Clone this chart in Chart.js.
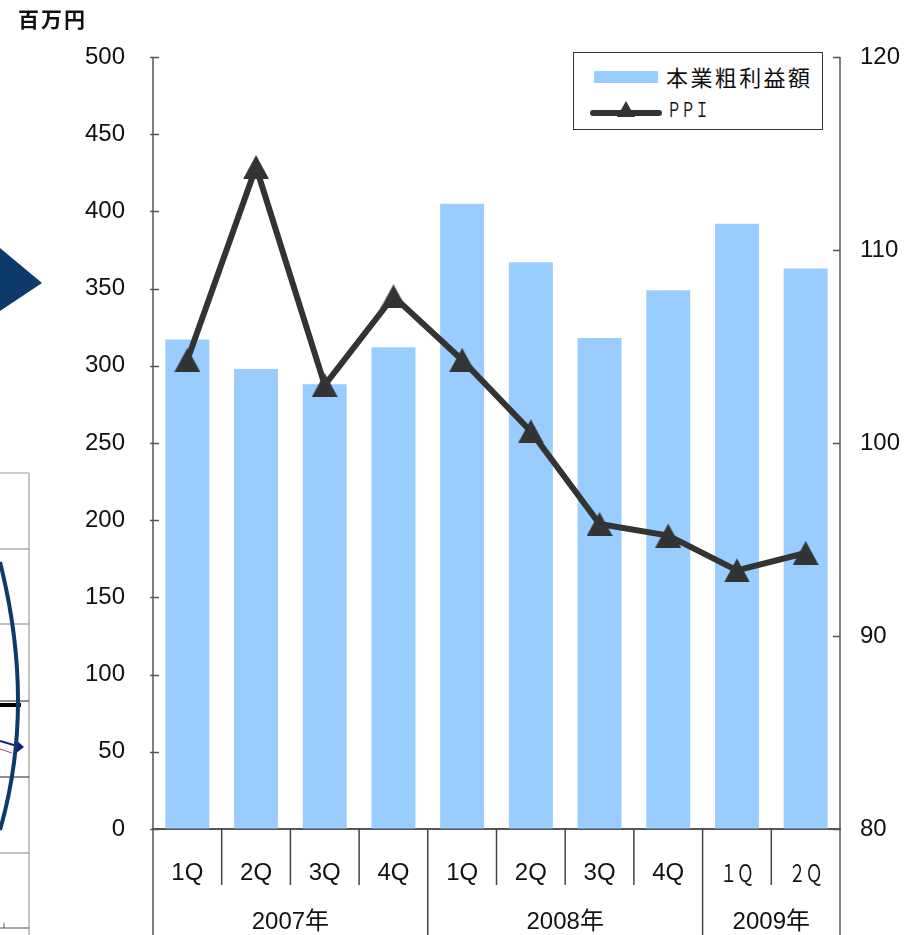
<!DOCTYPE html>
<html><head><meta charset="utf-8">
<script src="https://cdn.jsdelivr.net/npm/chart.js@4/dist/chart.umd.min.js"></script>
<style>
html,body{margin:0;padding:0;background:#fff;}
#wrap{position:relative;width:915px;height:935px;overflow:hidden;}
#c{position:absolute;left:0;top:0;}
#deco{position:absolute;left:0;top:0;}
#unit{position:absolute;left:18px;top:3px;font:bold 21px "Noto Sans CJK JP",sans-serif;letter-spacing:2px;color:#111;}
#legend{position:absolute;left:573px;top:52px;width:250px;height:78px;border:1px solid #333;box-sizing:border-box;background:#fff;}
#legend .t1{position:absolute;left:92px;top:7px;font:22px "Noto Sans CJK JP",sans-serif;letter-spacing:2.4px;color:#111;white-space:nowrap;}
#legend .t2{position:absolute;left:93px;top:41px;font:20px "Noto Sans CJK JP",sans-serif;color:#111;white-space:nowrap;transform:scaleX(0.7);transform-origin:left center;}
#legend svg{position:absolute;left:0;top:0;}
</style></head>
<body>
<div id="wrap">
<svg id="deco" width="60" height="935">
  <polygon points="0,248 42,283 0,311" fill="#0b3a6b"/>
  <line x1="0" y1="473" x2="29" y2="473" stroke="#9a9a9a" stroke-width="1"/>
  <line x1="29" y1="473" x2="29" y2="935" stroke="#c4c4c4" stroke-width="2"/>
  <line x1="0" y1="549" x2="29" y2="549" stroke="#808080" stroke-width="1"/>
  <line x1="0" y1="624" x2="29" y2="624" stroke="#808080" stroke-width="1"/>
  <line x1="0" y1="701" x2="29" y2="701" stroke="#222" stroke-width="1"/>
  <line x1="0" y1="777" x2="29" y2="777" stroke="#222" stroke-width="1"/>
  <line x1="0" y1="853" x2="29" y2="853" stroke="#808080" stroke-width="1"/>
  <line x1="0" y1="928" x2="29" y2="928" stroke="#555" stroke-width="1"/>
  <line x1="4" y1="923" x2="4" y2="928" stroke="#555" stroke-width="1"/>
  <line x1="0" y1="705" x2="21" y2="705" stroke="#000" stroke-width="4"/>
  <line x1="0" y1="741" x2="17" y2="746" stroke="#1a1a80" stroke-width="2"/>
  <line x1="0" y1="749" x2="12" y2="753" stroke="#a040a0" stroke-width="1"/>
  <polygon points="15,739 24,747 15,754" fill="#1a1a80"/>
  <path d="M 0 562 Q 36 705 0 830" fill="none" stroke="#0b3a6b" stroke-width="4"/>
</svg>
<canvas id="c" width="915" height="935"></canvas>
<div id="unit">百万円</div>
<div id="legend">
  <svg width="250" height="78">
    <rect x="20" y="18" width="64" height="12" fill="#99ccff"/>
    <line x1="19" y1="60" x2="85" y2="60" stroke="#333" stroke-width="6" stroke-linecap="round"/>
    <polygon points="52,48 61,64 43,64" fill="#333"/>
  </svg>
  <span class="t1">本業粗利益額</span>
  <span class="t2">ＰＰＩ</span>
</div>
</div>
<script>
// ---- data ----
const quarterLabels = ['1Q','2Q','3Q','4Q','1Q','2Q','3Q','4Q','１Ｑ','２Ｑ'];
const yearLabels = ['2007年','2008年','2009年'];
const yearSpans = [4, 4, 2];
const grossProfit = [317, 298, 288, 312, 405, 367, 318, 349, 392, 363];
const ppiValues = [104.3, 114.3, 103.0, 107.6, 104.3, 100.6, 95.8, 95.2, 93.4, 94.3];
const seriesNames = ['本業粗利益額', 'ＰＰＩ'];

const FONT = '"Liberation Sans", Arial, "Noto Sans CJK JP", sans-serif';
const AXIS = '#555555';

// triangle marker, centered on its bounding box
const tri = document.createElement('canvas');
tri.width = 26; tri.height = 24;
(function(){
  const g = tri.getContext('2d');
  g.fillStyle = '#333333';
  g.beginPath(); g.moveTo(13, 0); g.lineTo(26, 24); g.lineTo(0, 24); g.closePath(); g.fill();
})();

const axisPlugin = {
  id: 'axisDecor',
  afterDraw(chart) {
    const ctx = chart.ctx;
    const a = chart.chartArea;
    const xs = chart.scales.x, yl = chart.scales.y, yr = chart.scales.y1;
    const H = chart.height;
    const n = quarterLabels.length;
    const step = xs.getPixelForValue(1) - xs.getPixelForValue(0);
    const bound = k => xs.getPixelForValue(0) - step / 2 + k * step;
    ctx.save();
    // inward ticks
    ctx.strokeStyle = AXIS; ctx.lineWidth = 1.5;
    yl.ticks.forEach(t => {
      const p = Math.round(yl.getPixelForValue(t.value)) + 0.5;
      ctx.beginPath(); ctx.moveTo(a.left - 3, p); ctx.lineTo(a.left + 6, p); ctx.stroke();
    });
    yr.ticks.forEach(t => {
      const p = Math.round(yr.getPixelForValue(t.value)) + 0.5;
      ctx.beginPath(); ctx.moveTo(a.right - 7, p); ctx.lineTo(a.right, p); ctx.stroke();
    });
    // axis lines extended down
    ctx.lineWidth = 1.5; ctx.strokeStyle = AXIS;
    [a.left, a.right].forEach(x => {
      ctx.beginPath(); ctx.moveTo(x, a.top); ctx.lineTo(x, H); ctx.stroke();
    });
    // quarter separators
    ctx.strokeStyle = '#444'; ctx.lineWidth = 1.5;
    const yearBounds = new Set();
    let acc = 0; yearSpans.forEach(s => { acc += s; yearBounds.add(acc); });
    for (let k = 1; k < n; k++) {
      const x = bound(k);
      const bottom = yearBounds.has(k) ? H : a.bottom + 56;
      ctx.beginPath(); ctx.moveTo(x, a.bottom); ctx.lineTo(x, bottom); ctx.stroke();
    }
    // quarter labels
    ctx.fillStyle = '#111';
    ctx.textAlign = 'center'; ctx.textBaseline = 'middle';
    quarterLabels.forEach((lab, i) => {
      const cx = xs.getPixelForValue(i);
      const wide = /[\uFF00-\uFFEF]/.test(lab);
      ctx.save();
      ctx.translate(cx, a.bottom + 44);
      if (wide) { ctx.font = '24px "Noto Sans CJK JP", sans-serif'; ctx.scale(0.7, 1); }
      else ctx.font = '24px ' + FONT;
      ctx.fillText(lab, 0, 0);
      ctx.restore();
    });
    // year labels
    ctx.font = '24px ' + FONT;
    let start = 0;
    yearLabels.forEach((lab, j) => {
      const end = start + yearSpans[j];
      const cx = (bound(start) + bound(end)) / 2;
      ctx.fillText(lab, cx, a.bottom + 93);
      start = end;
    });
    ctx.restore();
  }
};

new Chart(document.getElementById('c'), {
  type: 'bar',
  data: {
    labels: quarterLabels,
    datasets: [
      { type: 'line', label: seriesNames[1], data: ppiValues, yAxisID: 'y1', order: 0,
        borderColor: '#333333', borderWidth: 6, pointStyle: tri, pointRadius: 12,
        pointBackgroundColor: '#333333', pointBorderColor: '#333333', tension: 0,
        borderJoinStyle: 'miter', clip: false },
      { type: 'bar', label: seriesNames[0], data: grossProfit, yAxisID: 'y', order: 1,
        backgroundColor: '#99ccff', borderWidth: 0, barPercentage: 0.64, categoryPercentage: 1 }
    ]
  },
  options: {
    responsive: false, animation: false, events: [],
    layout: { padding: { top: 57, left: 0, right: 0, bottom: 0 } },
    plugins: { legend: { display: false }, tooltip: { enabled: false }, title: { display: false } },
    scales: {
      x: {
        offset: true,
        grid: { display: false },
        ticks: { display: false },
        border: { display: true, color: AXIS, width: 2 },
        afterFit(s) { s.height = 106; }
      },
      y: {
        position: 'left', min: 0, max: 500,
        ticks: { stepSize: 50, padding: 28, color: '#111', font: { family: FONT, size: 24 } },
        grid: { drawOnChartArea: false, drawTicks: false },
        border: { display: false },
        afterFit(s) { s.width = 153; }
      },
      y1: {
        position: 'right', min: 80, max: 120,
        ticks: { stepSize: 10, padding: 20, color: '#111', font: { family: FONT, size: 24 } },
        grid: { drawOnChartArea: false, drawTicks: false },
        border: { display: false },
        afterFit(s) { s.width = 75; }
      }
    }
  },
  plugins: [axisPlugin]
});
</script>
</body></html>
